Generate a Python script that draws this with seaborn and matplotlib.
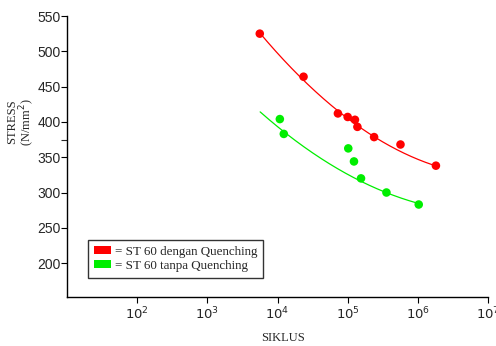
import numpy as np
import pandas as pd
import matplotlib
matplotlib.use("Agg")
import matplotlib.pyplot as plt
from matplotlib.patches import Patch
from matplotlib.ticker import FixedLocator, FixedFormatter
import seaborn as sns

# ---- data ----
red_N = [5590, 23500, 72600, 100000, 127000, 137600, 238000, 566000, 1810000]
red_S = [525, 464, 412, 407, 403, 393, 378.5, 368, 338]
green_N = [10800, 12300, 102000, 123000, 155000, 357000, 1030000]
green_S = [404, 383, 362.5, 344, 320, 300, 283]

# trend curves
curve_red_N = [5590, 23500, 72600, 238000, 566000, 1810000]
curve_red_S = [524.5, 463.6, 412.5, 378.5, 358.5, 338]
curve_green_N = [5660, 12300, 35700, 155000, 357000, 1030000]
curve_green_S = [417, 383, 350, 320, 300, 283]

labels = ["= ST 60 dengan Quenching", "= ST 60 tanpa Quenching"]
colors = ["#ff0000", "#00ee00"]
y_ticks = [200, 250, 300, 350, 400, 450, 500, 550]
x_exps = [2, 3, 4, 5, 6, 7]

sns.set_style("ticks")
plt.rcParams["font.family"] = ["Liberation Sans", "DejaVu Sans"]

fig = plt.figure(figsize=(4.96, 3.46), dpi=100)
ax = fig.add_axes([67 / 496, 1 - 297 / 346, 421 / 496, 281 / 346])

pts = pd.DataFrame({
    "N": red_N + green_N,
    "S": red_S + green_S,
    "series": [labels[0]] * len(red_N) + [labels[1]] * len(green_N),
})


def smooth(Ns, Ss):
    lx = np.log10(Ns)
    c = np.polyfit(lx, Ss, 2)
    xs = np.linspace(lx.min(), lx.max(), 200)
    return 10 ** xs, np.polyval(c, xs)


cx_r, cy_r = smooth(np.array(curve_red_N), np.array(curve_red_S))
cx_g, cy_g = smooth(np.array(curve_green_N), np.array(curve_green_S))
curves = pd.DataFrame({
    "N": np.concatenate([cx_r, cx_g]),
    "S": np.concatenate([cy_r, cy_g]),
    "series": [labels[0]] * len(cx_r) + [labels[1]] * len(cx_g),
})

pal = dict(zip(labels, colors))
sns.lineplot(data=curves, x="N", y="S", hue="series", palette=pal, ax=ax,
             linewidth=0.9, legend=False, sort=False, estimator=None)
sns.scatterplot(data=pts, x="N", y="S", hue="series", palette=pal, ax=ax,
                s=38, edgecolor="none", legend=False, zorder=3)

ax.set_xscale("log")
ax.set_xlim(10, 1e7)
ax.set_ylim(152, 550)

ax.xaxis.set_major_locator(FixedLocator([10.0 ** e for e in x_exps]))
ax.xaxis.set_major_formatter(FixedFormatter([r"$10^{%d}$" % e for e in x_exps]))
ax.xaxis.set_minor_locator(FixedLocator([]))
ax.yaxis.set_major_locator(FixedLocator(y_ticks))
ax.yaxis.set_minor_locator(FixedLocator([375]))
ax.tick_params(axis="both", which="major", length=4, width=0.8,
               color="black", pad=2)
ax.tick_params(axis="y", labelsize=10, pad=0.6)
ax.tick_params(axis="y", which="minor", length=4, width=0.8)
ax.tick_params(axis="x", labelsize=9.5)
for lab in ax.get_xticklabels():
    lab.set_fontfamily(["Liberation Serif", "DejaVu Serif"])

sns.despine(ax=ax)
for sp in ["left", "bottom"]:
    ax.spines[sp].set_linewidth(1.0)
    ax.spines[sp].set_color("black")

ax.set_xlabel("")
ax.set_ylabel("")

serif = ["Liberation Serif", "DejaVu Serif"]
fig.text(12 / 496, 1 - 122 / 346, "STRESS", rotation=90, ha="center",
         va="center", fontsize=9, family=serif)
fig.text(27 / 496, 1 - 122 / 346, r"(N/mm$^{2}$)", rotation=90, ha="center",
         va="center", fontsize=9, family=serif)
fig.text(283 / 496, 1 - 338 / 346, "SIKLUS", ha="center", va="center",
         fontsize=9, family=serif)

handles = [Patch(facecolor=c, edgecolor="none") for c in colors]
leg = ax.legend(handles, labels, loc="upper left",
                bbox_to_anchor=((88 - 67) / 421, (297 - 240) / 281),
                borderaxespad=0, frameon=True, fancybox=False,
                prop={"family": serif, "size": 9.4},
                handlelength=1.3, handleheight=0.55, handletextpad=0.3,
                labelspacing=0.15, borderpad=0.45)
leg.get_frame().set_edgecolor("black")
leg.get_frame().set_linewidth(1.0)

fig.savefig("out.png", dpi=100)
